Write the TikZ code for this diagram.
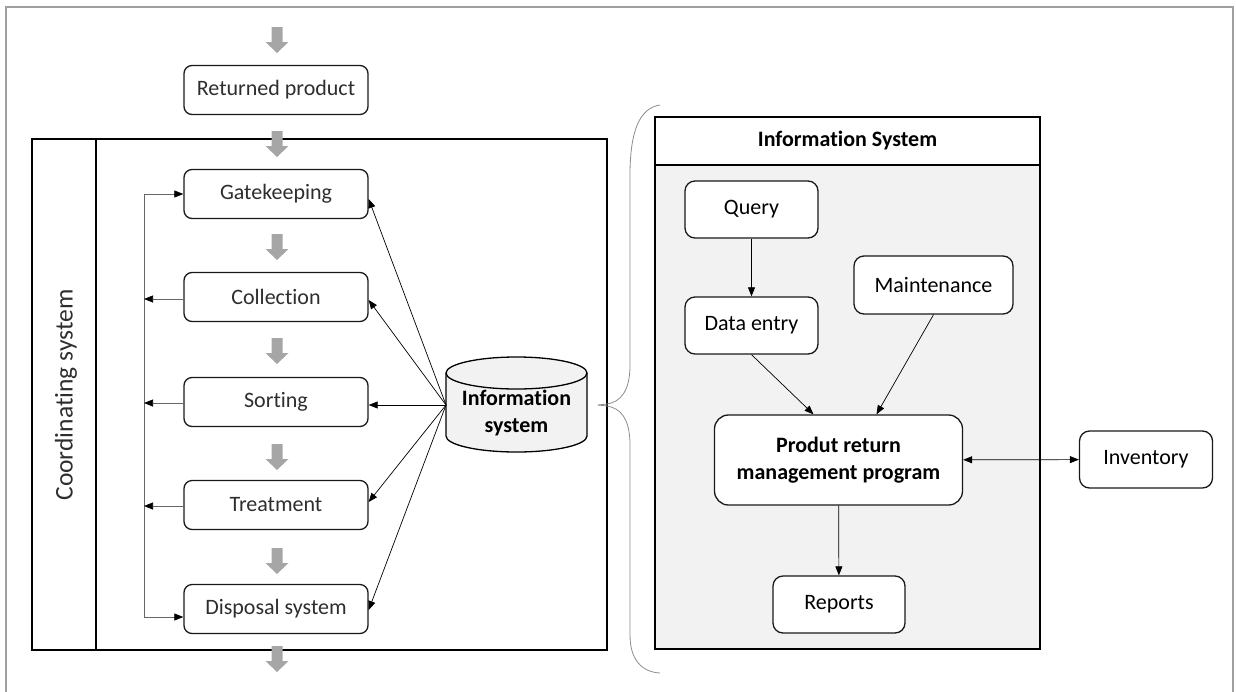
\documentclass[tikz,border=0pt]{standalone}
\usepackage{fontspec}
\setmainfont{Carlito}[Ligatures=NoCommon]
\usetikzlibrary{arrows.meta}
\definecolor{garrowc}{HTML}{A6A6A6}
\definecolor{panelfill}{HTML}{F2F2F2}
\definecolor{framec}{HTML}{A0A0A0}
\definecolor{bracec}{HTML}{8C8C8C}
\definecolor{lefttext}{HTML}{2E2E2E}
\begin{document}
\begin{tikzpicture}[x=1pt,y=-1pt,
  box/.style={draw=black!90, line width=1.3pt, rounded corners=8pt, fill=white, inner sep=0pt, align=center, font=\fontsize{22}{26}\selectfont},
  lbox/.style={box, minimum width=184pt, minimum height=49pt, text=lefttext},
  rbox/.style={box, rounded corners=10pt, minimum width=133pt, minimum height=57pt},
  conn/.style={line width=0.7pt, -{Triangle[length=9pt,width=7pt]}},
  fbconn/.style={draw=black!60, line width=0.7pt, -{Triangle[length=9pt,width=7pt,color=black]}},
  fb/.style={draw=black!60, line width=0.7pt},
  blockarrow/.pic={\fill[garrowc] (-5.5,0) -- (5.5,0) -- (5.5,15) -- (11.5,15) -- (0,26) -- (-11.5,15) -- (-5.5,15) -- cycle;},
]
\useasboundingbox (0,0) rectangle (1236,691);
% outer frame
\draw[framec, line width=1.3pt] (6,695) -- (6,7) -- (1233,7) -- (1233,695);

% coordinating system container
\node[draw, line width=1.3pt, minimum width=575pt, minimum height=511pt, inner sep=0pt] (coordbox) at (319.5,394.5) {};
\draw[line width=1.3pt] (96,139) -- (96,650);
\node[rotate=90, font=\fontsize{25.5}{30}\selectfont, text=lefttext] (coordlabel) at (66,395) {Coordinating system};

% process boxes
\node[lbox] (ret) at (276,90) {Returned product};
\node[lbox] (gate) at (276,194) {Gatekeeping};
\node[lbox] (coll) at (276,297) {Collection};
\node[lbox] (sort) at (276,402) {Sorting};
\node[lbox] (treat) at (276,505) {Treatment};
\node[lbox] (disp) at (276,609) {Disposal system};

% grey flow arrows
\foreach \yy in {27,131,234,338,444,548,646} \pic at (277,\yy) {blockarrow};

% feedback loop
\coordinate (fbtop) at (144,194);
\coordinate (fbbot) at (144,617);
\draw[fb] (fbtop) -- (fbbot);
\draw[fbconn] (fbtop) -- (gate.west);
\draw[fbconn] (fbbot) -- (fbbot -| disp.west);
\draw[fbconn] ([yshift=-2pt]coll.west) -- ([yshift=-2pt]coll.west -| fbtop);
\draw[fbconn] ([yshift=-1pt]sort.west) -- ([yshift=-1pt]sort.west -| fbtop);
\draw[fbconn] ([yshift=-1pt]treat.west) -- ([yshift=-1pt]treat.west -| fbtop);

% database cylinder
\fill[panelfill] (446,373) rectangle (587,436);
\fill[panelfill] (516.5,436) ellipse [x radius=70.5, y radius=16];
\draw[line width=1.3pt] (446,373) -- (446,436) arc [start angle=180, end angle=0, x radius=70.5, y radius=16] -- (587,373);
\draw[line width=1.3pt, fill=panelfill] (516.5,373) ellipse [x radius=70.5, y radius=16];
\node[align=center, font=\fontsize{22}{27}\selectfont\bfseries] (infsys) at (516.5,413.5) {Information\\system};
\coordinate (hub) at (446,405);

% connectors from the information system
\draw[conn] (hub) -- ([yshift=-5pt]gate.east);
\draw[conn] (hub) -- ([yshift=-3pt]coll.east);
\draw[conn] (hub) -- (hub -| sort.east);
\draw[conn] (hub) -- ([yshift=3pt]treat.east);
\draw[conn] (hub) -- ([yshift=-1pt]disp.east);

% brace
\draw[bracec, line width=0.8pt] (660,105) .. controls (640,108) and (630,130) .. (630,175) -- (630,365)
  .. controls (630,392) and (620,402) .. (607,404) -- (598,405);
\draw[bracec, line width=0.8pt] (598,405) -- (607,406) .. controls (620,408) and (630,418) .. (630,445) -- (630,635)
  .. controls (630,660) and (642,672) .. (660,673);

% information system panel
\fill[panelfill] (655,165) rectangle (1040,649);
\node[draw, line width=1.3pt, fill=white, minimum width=385pt, minimum height=48pt, inner sep=0pt, font=\fontsize{22}{26}\selectfont\bfseries] (header) at (847.5,141) {Information System};
\node[draw, line width=1.3pt, minimum width=385pt, minimum height=532pt, inner sep=0pt] (panel) at (847.5,383) {};

\node[rbox] (query) at (751.5,209.5) {Query};
\node[rbox] (dentry) at (751.5,325.5) {Data entry};
\node[rbox, minimum width=159pt, minimum height=58pt] (maint) at (933.5,285) {Maintenance};
\node[rbox, rounded corners=14pt, minimum width=248pt, minimum height=90pt, font=\fontsize{22}{26.5}\selectfont\bfseries] (prog) at (838.5,460) {Produt return\\management program};
\node[rbox, minimum width=132pt] (reports) at (839,604.5) {Reports};
\node[rbox] (inv) at (1146,459.5) {Inventory};

\draw[conn] (query) -- (dentry);
\draw[conn] (dentry.south) -- ([xshift=-25pt]prog.north);
\draw[conn] (maint.south) -- ([xshift=38pt]prog.north);
\draw[conn] (prog) -- (reports);
\draw[conn, {Triangle[length=9pt,width=7pt]}-{Triangle[length=9pt,width=7pt]}] (prog) -- (inv);
\end{tikzpicture}
\end{document}
